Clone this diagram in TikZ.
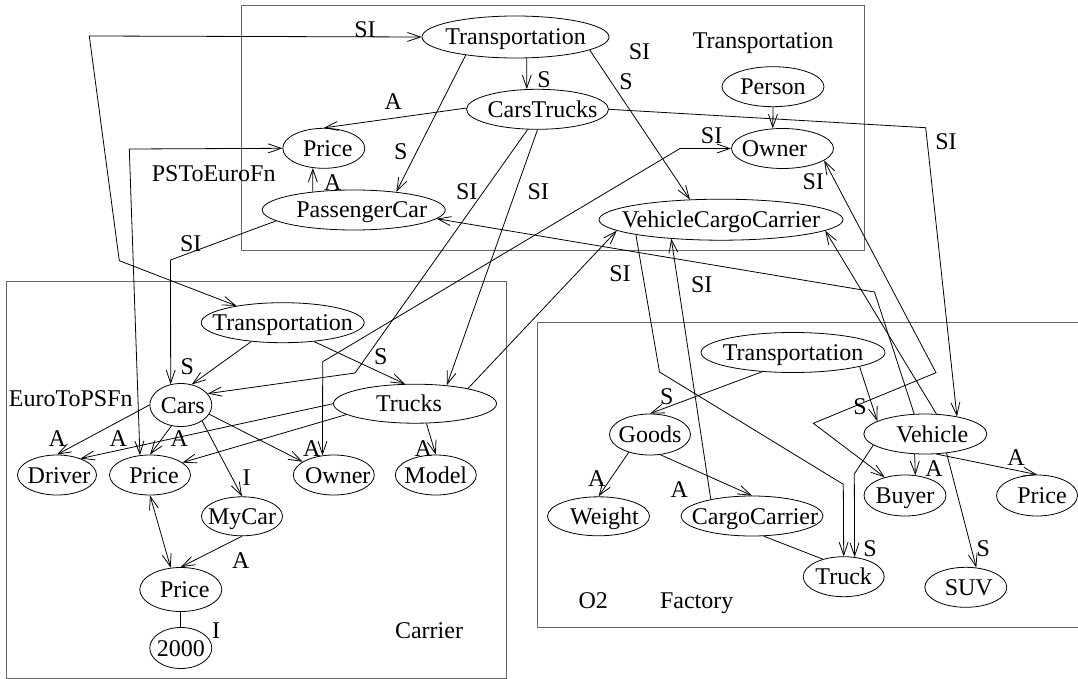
\documentclass[tikz,border=0pt]{standalone}
\usepackage{fontspec}
\setmainfont{Liberation Serif}
\usetikzlibrary{shapes.geometric, arrows.meta}

\begin{document}
\begin{tikzpicture}[
    x=1pt, y=-1pt,
    font=\fontsize{24}{28}\selectfont,
    >={Straight Barb[length=13pt, width=9pt]},
    ent/.style={ellipse, draw, line width=0.8pt, inner sep=0pt, minimum height=40pt},
    txt/.style={label={[lbl]center:#1}},
    lbl/.style={inner sep=0pt, text height=16pt, text depth=0pt},
    e/.style={line width=0.8pt},
    ontobox/.style={draw=black!60, line width=1.2pt}
  ]
  \useasboundingbox (0,0) rectangle (1078,679);

  % ontology boxes
  \draw[ontobox] (241.7,5.7) rectangle (864.3,250.5);
  \draw[ontobox] (6.7,281.5) rectangle (506.7,678.3);
  \draw[ontobox] (1090,322.3) -| (537.5,627.7) -- (1090,627.7);

  % Transportation ontology
  \node[ent, minimum width=187pt, minimum height=42pt, txt=Transportation] (tT) at (515.5,37) {};
  \node[ent, minimum width=142pt, label={[lbl, xshift=5pt]center:CarsTrucks}] (tCT) at (537.5,109.3) {};
  \node[ent, minimum width=82pt, label={[lbl, xshift=4pt]center:Price}] (tPrice) at (323.8,148.3) {};
  \node[ent, minimum width=183pt, label={[lbl, xshift=8pt]center:PassengerCar}] (tPC) at (353.7,210) {};
  \node[ent, minimum width=102pt, txt=Person] (tPerson) at (773,86.7) {};
  \node[ent, minimum width=102pt, label={[lbl, xshift=-8pt]center:Owner}] (tOwner) at (782.5,148.5) {};
  \node[ent, minimum width=244pt, minimum height=41pt, txt=VehicleCargoCarrier] (tVCC) at (721,219.7) {};
  \node[lbl] (tName) at (763,40.5) {Transportation};
  \node[lbl] (tFn) at (213.7,173.3) {PSToEuroFn};
  \node[lbl] (tSI) at (639.5,51.5) {SI};

  % Carrier ontology
  \node[ent, minimum width=163pt, txt=Transportation] (cT) at (282.7,322.7) {};
  \node[ent, minimum width=62pt, minimum height=43pt, label={[lbl, xshift=2pt]center:Cars}] (cCars) at (180.8,405) {};
  \node[ent, minimum width=163pt, minimum height=39pt, label={[lbl, xshift=-6pt]center:Trucks}] (cTrucks) at (415,403.7) {};
  \node[ent, minimum width=79pt, label={[lbl, xshift=2pt]center:Driver}] (cDriver) at (57,475) {};
  \node[ent, minimum width=81pt, label={[lbl, xshift=4pt]center:Price}] (cPrice) at (150,475) {};
  \node[ent, minimum width=81pt, label={[lbl, xshift=4pt]center:Owner}] (cOwner) at (333.8,475) {};
  \node[ent, minimum width=81pt, txt=Model] (cModel) at (435.8,475) {};
  \node[ent, minimum width=81pt, minimum height=39pt, txt=MyCar] (cMyCar) at (242,516.3) {};
  \node[ent, minimum width=82pt, minimum height=44pt, label={[lbl, xshift=4pt]center:Price}] (cPrice2) at (180.8,589.5) {};
  \node[ent, minimum width=62pt, minimum height=41pt, txt=2000] (c2000) at (180.8,648) {};
  \node[lbl] (cFn) at (70.8,398.3) {EuroToPSFn};
  \node[lbl] (cName) at (429,630) {Carrier};

  % Factory ontology
  \node[ent, minimum width=184pt, txt=Transportation] (fT) at (793,352.5) {};
  \node[ent, minimum width=81pt, minimum height=41pt, txt=Goods] (fGoods) at (650,434.5) {};
  \node[ent, minimum width=123pt, label={[lbl, xshift=7pt]center:Vehicle}] (fVehicle) at (925.3,434) {};
  \node[ent, minimum width=102pt, minimum height=39pt, label={[lbl, xshift=6pt]center:Weight}] (fWeight) at (598.5,516.3) {};
  \node[ent, minimum width=142pt, label={[lbl, xshift=3pt]center:CargoCarrier}] (fCC) at (752,516) {};
  \node[ent, minimum width=82pt, minimum height=41pt, txt=Buyer] (fBuyer) at (905,495.5) {};
  \node[ent, minimum width=81pt, minimum height=41pt, label={[lbl, xshift=5pt]center:Price}] (fPrice) at (1037,495.5) {};
  \node[ent, minimum width=81pt, txt=Truck] (fTruck) at (843.7,576.7) {};
  \node[ent, minimum width=82pt, label={[lbl, xshift=3pt]center:SUV}] (fSUV) at (965.8,587.3) {};
  \node[lbl] (fO2) at (593.3,600) {O2};
  \node[lbl] (fName) at (696.7,600) {Factory};

  % edges inside Transportation
  \draw[e,->] (tT.-62) -- (tCT.118) node[lbl] at (544,80) {S};
  \draw[e,->] (tCT.179) -- (tPrice.north) node[lbl] at (393.3,101.7) {A};
  \draw[e,->] (tT.200) -- (tPC.23) node[lbl] at (400.7,151.7) {S};
  \draw[e,->] (tPC.156) -- (tPrice.241) node[lbl] at (332.7,182.7) {A};
  \draw[e,->] (tT.-10) -- (tVCC.147) node[lbl] at (626,82) {S};
  \draw[e,->] (tPerson.south) -- (tOwner.116);

  % edges between ontologies
  \draw[e,<->] (cT.160) -- (119.3,260.7) -- (89.3,36) -- (tT.west) node[lbl] at (365,30) {SI};
  \draw[e,<->] (cPrice.117) -- (129.3,149) -- (tPrice.west);
  \draw[e,->] (tPC.188) -- (170.5,260) -- (cCars.116) node[lbl] at (190.7,243.3) {SI};
  \draw[e,->] (tCT.244) -- (355,373) -- (cCars.23) node[lbl] at (466.7,191.7) {SI};
  \draw[e,->] (tCT.south) -- (cTrucks.30) node[lbl] at (538.3,191.7) {SI};
  \draw[e,<->] (tOwner.west) -- (680,148.5) -- (322.7,361.7) -- (cOwner.120) node[lbl] at (711.6,135.6) {SI};
  \draw[e,->] (cTrucks.16) -- (tVCC.186) node[lbl] at (620,273.3) {SI};
  \draw[e,->] (tCT.east) -- (925.7,127.7) -- (fVehicle.29) node[lbl] at (946,141.7) {SI};
  \draw[e,->] (fVehicle.119) -- (874.5,292) -- (tPC.-6);
  \draw[e,->] (fVehicle.61) -- (tVCC.-6);
  \draw[e,<->] (tOwner.-16) -- (936,372.7) -- (813.3,423.3) -- (fBuyer.138) node[lbl] at (813.3,181.7) {SI};
  \draw[e,->] (fCC.158) -- (tVCC.201) node[lbl] at (701.7,284) {SI};
  \draw[e,->] (tVCC.190) -- (659.5,372) -- (843.3,484.3) -- (fTruck.north);

  % edges inside Carrier
  \draw[e,->] (cT.211) -- (cCars.62) node[lbl] at (187.3,366) {S};
  \draw[e,->] (cT.-31) -- (cTrucks.117) node[lbl] at (380.7,356) {S};
  \draw[e,->] (cCars.west) -- (cDriver.north) node[lbl] at (57.3,438.3) {A};
  \draw[e,->] (cCars.246) -- (cPrice.north) node[lbl] at (179.3,438.3) {A};
  \draw[e,->] (cTrucks.west) -- (cDriver.35) node[lbl] at (118.3,438.3) {A};
  \draw[e,->] (cTrucks.189) -- (cPrice.21);
  \draw[e,->] (cCars.-18) -- (cOwner.157) node[lbl] at (311.7,448.3) {A};
  \draw[e,->] (cCars.-37) -- (cMyCar.north) node[lbl] at (246.7,477.3) {I};
  \draw[e,->] (cMyCar.south) -- (cPrice2.north) node[lbl] at (240.7,560) {A};
  \draw[e,<->] (cPrice.south) -- (cPrice2.115);
  \draw[e] (cPrice2.south) -- (c2000.north) node[lbl] at (216,630) {I};
  \draw[e,->] (cTrucks.-60) -- (cModel.north) node[lbl] at (423.3,448.3) {A};

  % edges inside Factory
  \draw[e,->] (fT.212) -- (fGoods.north) node[lbl] at (666.7,396.7) {S};
  \draw[e,->] (fT.-12) -- (fVehicle.165) node[lbl] at (860,406) {S};
  \draw[e,->] (fGoods.220) -- (fWeight.north) node[lbl] at (596.7,478.3) {A};
  \draw[e,->] (fGoods.-63) -- (fCC.north) node[lbl] at (679.3,489.3) {A};
  \draw[e,->] (fVehicle.242) -- (fBuyer.63) node[lbl] at (934,468.3) {A};
  \draw[e,->] (fVehicle.-61) -- (fPrice.north) node[lbl] at (1016,457.7) {A};
  \draw[e,->] (fVehicle.-42) -- (fSUV.62) node[lbl] at (983.3,548.3) {S};
  \draw[e,->] (fVehicle.192) -- (854.3,474) -- (fTruck.61) node[lbl] at (870,548.3) {S};
  \draw[e] (fCC.-60) -- (fTruck.140);
\end{tikzpicture}
\end{document}
